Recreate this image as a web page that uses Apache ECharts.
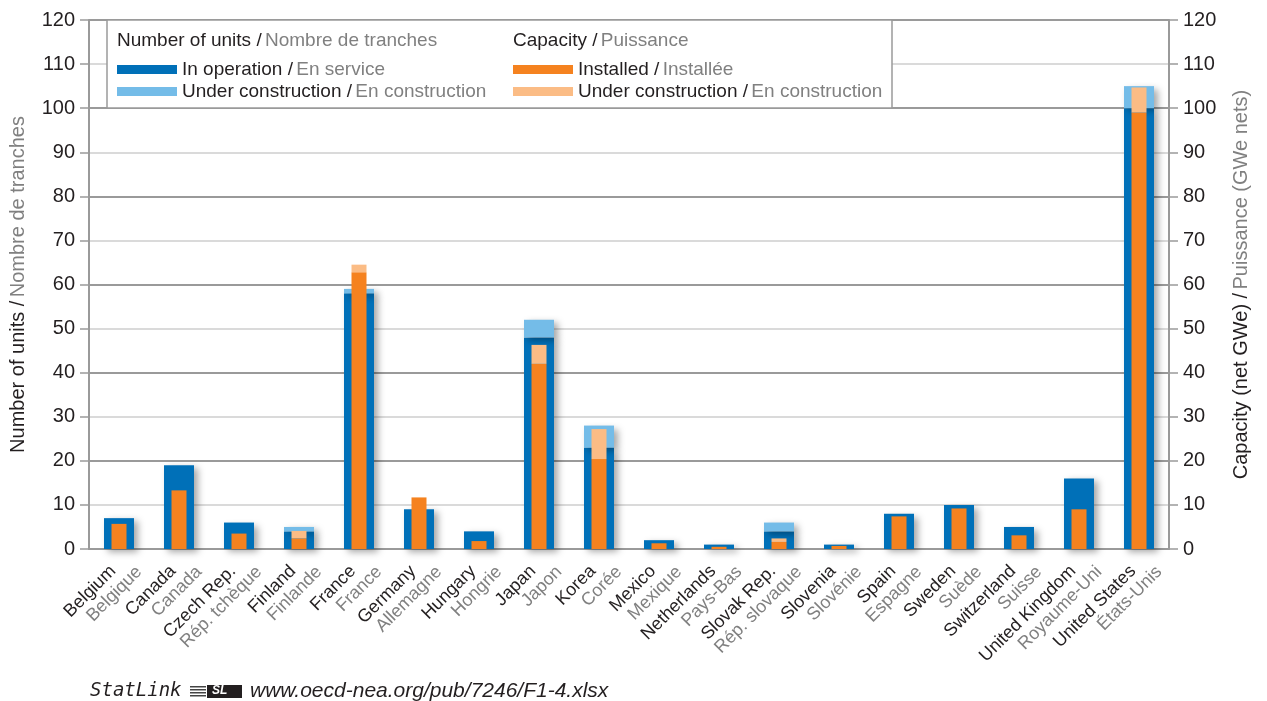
<!DOCTYPE html>
<html>
<head>
<meta charset="utf-8">
<script src="https://cdn.jsdelivr.net/npm/echarts@6/dist/echarts.min.js"></script>
<style>html,body{margin:0;padding:0;background:#fff;}#chart{width:1267px;height:701px;}</style>
</head>
<body>
<div id="chart"></div>
<script>
// ---- data ----
const countriesEN = ['Belgium','Canada','Czech Rep.','Finland','France','Germany','Hungary','Japan','Korea','Mexico','Netherlands','Slovak Rep.','Slovenia','Spain','Sweden','Switzerland','United Kingdom','United States'];
const countriesFR = ['Belgique','Canada','Rép. tchèque','Finlande','France','Allemagne','Hongrie','Japon','Corée','Mexique','Pays-Bas','Rép. slovaque','Slovénie','Espagne','Suède','Suisse','Royaume-Uni','États-Unis'];
const unitsOperation    = [7, 19, 6, 4, 58, 9, 4, 48, 23, 2, 1, 4, 1, 8, 10, 5, 16, 100];
const unitsConstruction = [0, 0, 0, 1, 1, 0, 0, 4, 5, 0, 0, 2, 0, 0, 0, 0, 0, 5];
const capInstalled      = [5.7, 13.3, 3.5, 2.4, 62.8, 11.7, 1.8, 42.0, 20.4, 1.3, 0.5, 1.6, 0.7, 7.4, 9.2, 3.1, 9.0, 99.0];
const capConstruction   = [0, 0, 0, 1.7, 1.7, 0, 0, 4.3, 6.8, 0, 0, 0.8, 0, 0, 0, 0, 0, 5.7];
const yTicks = [0, 10, 20, 30, 40, 50, 60, 70, 80, 90, 100, 110, 120];

const legendText = {
  'units_op': ['In operation', 'En service'],
  'units_uc': ['Under construction', 'En construction'],
  'cap_inst': ['Installed', 'Installée'],
  'cap_uc':   ['Under construction', 'En construction']
};

const BLACK = '#231f20', GRAY = '#808080';
const FONT = 'Liberation Sans, Arial, sans-serif';
const categories = countriesEN.map((e, i) => e + '|' + countriesFR[i]);

const chart = echarts.init(document.getElementById('chart'), null, {renderer: 'canvas'});
const blueShadow = {shadowBlur: 7, shadowColor: 'rgba(0,0,0,0.35)', shadowOffsetX: 4, shadowOffsetY: 3};
const legendRich = {
  a: {color: BLACK, fontSize: 19, fontFamily: FONT, lineHeight: 20},
  b: {color: GRAY, fontSize: 19, fontFamily: FONT, lineHeight: 20}
};
const nameRich = {
  a: {color: BLACK, fontSize: 20, fontFamily: FONT},
  b: {color: GRAY, fontSize: 20, fontFamily: FONT}
};

const option = {
  backgroundColor: '#fff',
  animation: false,
  textStyle: {fontFamily: FONT},
  grid: {left: 89, right: 98, top: 20, bottom: 152, containLabel: false},
  xAxis: [{
    type: 'category',
    data: categories,
    axisLine: {lineStyle: {color: '#9a9a9a', width: 2}},
    axisTick: {show: false},
    axisLabel: {
      interval: 0, rotate: 45, margin: 0, align: 'right', verticalAlign: 'top',
      formatter: v => { const p = v.split('|'); return '{en|' + p[0] + '}\n{fr|' + p[1] + '}'; },
      rich: {
        en: {color: BLACK, fontSize: 18, fontFamily: FONT, lineHeight: 19, padding: [0, 18, 0, 0]},
        fr: {color: GRAY, fontSize: 18, fontFamily: FONT, lineHeight: 19}
      }
    }
  }, {
    type: 'category', data: categories, show: false, gridIndex: 0
  }],
  yAxis: [{
    type: 'value', min: 0, max: 120, interval: 10, position: 'left',
    axisLine: {show: true, lineStyle: {color: '#9a9a9a', width: 2}},
    axisTick: {show: true, length: 9, lineStyle: {color: '#9a9a9a', width: 1.5}},
    axisLabel: {color: BLACK, fontSize: 20, fontFamily: FONT, margin: 14,
      formatter: v => yTicks.includes(v) ? String(v) : ''},
    splitLine: {show: true, lineStyle: {color: ['#9a9a9a', '#dadada'], width: 2}},
    name: '{a|Number of units /} {b|Nombre de tranches}',
    nameLocation: 'middle', nameRotate: 90, nameGap: 61,
    nameTextStyle: {rich: nameRich}
  }, {
    type: 'value', min: 0, max: 120, interval: 10, position: 'right',
    axisLine: {show: true, lineStyle: {color: '#9a9a9a', width: 2}},
    axisTick: {show: true, length: 9, lineStyle: {color: '#9a9a9a', width: 1.5}},
    axisLabel: {color: BLACK, fontSize: 20, fontFamily: FONT, margin: 14,
      formatter: v => yTicks.includes(v) ? String(v) : ''},
    splitLine: {show: false},
    name: '{a|Capacity (net GWe) /} {b|Puissance (GWe nets)}',
    nameLocation: 'middle', nameRotate: 90, nameGap: 62,
    nameTextStyle: {rich: nameRich}
  }],
  legend: [{
    data: ['units_op', 'units_uc'],
    orient: 'vertical', left: 117, top: 60, itemWidth: 60, itemHeight: 9, itemGap: 3,
    icon: 'rect', selectedMode: false, z: 20, padding: 0,
    formatter: n => '{a|' + legendText[n][0] + ' /} {b|' + legendText[n][1] + '}',
    textStyle: {rich: legendRich}
  }, {
    data: ['cap_inst', 'cap_uc'],
    orient: 'vertical', left: 513, top: 60, itemWidth: 60, itemHeight: 9, itemGap: 3,
    icon: 'rect', selectedMode: false, z: 20, padding: 0,
    formatter: n => '{a|' + legendText[n][0] + ' /} {b|' + legendText[n][1] + '}',
    textStyle: {rich: legendRich}
  }],
  graphic: [
    {type: 'rect', z: 10, shape: {x: 107, y: 20, width: 785, height: 88},
     style: {fill: '#fff', stroke: '#9a9a9a', lineWidth: 1.5}},
    {type: 'text', z: 11, x: 117, y: 31,
     style: {text: '{a|Number of units /} {b|Nombre de tranches}',
       rich: {a: {fill: BLACK, fontSize: 19, fontFamily: FONT}, b: {fill: GRAY, fontSize: 19, fontFamily: FONT}}}},
    {type: 'text', z: 11, x: 513, y: 31,
     style: {text: '{a|Capacity /} {b|Puissance}',
       rich: {a: {fill: BLACK, fontSize: 19, fontFamily: FONT}, b: {fill: GRAY, fontSize: 19, fontFamily: FONT}}}},
    {type: 'text', z: 11, x: 90, y: 682,
     style: {text: 'StatLink', fill: BLACK, font: 'italic 19px "DejaVu Sans Mono", monospace'}},
    {type: 'group', x: 190, y: 684, z: 11, children: [
      {type: 'rect', shape: {x: 0, y: 2, width: 16, height: 1.5}, style: {fill: '#444'}},
      {type: 'rect', shape: {x: 0, y: 5, width: 16, height: 1.5}, style: {fill: '#444'}},
      {type: 'rect', shape: {x: 0, y: 8, width: 16, height: 1.5}, style: {fill: '#444'}},
      {type: 'rect', shape: {x: 0, y: 11, width: 16, height: 1.5}, style: {fill: '#444'}},
      {type: 'rect', shape: {x: 17, y: 1, width: 35, height: 13}, style: {fill: '#231f20'}},
      {type: 'text', x: 22, y: 1, style: {text: 'SL', fill: '#fff', font: 'bold italic 12px "Liberation Sans", Arial'}}
    ]},
    {type: 'text', z: 11, x: 250, y: 681,
     style: {text: 'www.oecd-nea.org/pub/7246/F1-4.xlsx', fill: BLACK, font: 'italic 21px "Liberation Sans", Arial, sans-serif'}}
  ],
  series: [
    {name: 'units_op', type: 'bar', xAxisIndex: 0, yAxisIndex: 0, stack: 'units', barWidth: 30,
     data: unitsOperation, itemStyle: Object.assign({color: '#0070b8'}, blueShadow), z: 2},
    {name: 'units_uc', type: 'bar', xAxisIndex: 0, yAxisIndex: 0, stack: 'units', barWidth: 30,
     data: unitsConstruction, itemStyle: Object.assign({color: '#74bce8'}, blueShadow), z: 2},
    {name: 'cap_inst', type: 'bar', xAxisIndex: 1, yAxisIndex: 1, stack: 'cap', barWidth: 15,
     data: capInstalled, itemStyle: {color: '#f5821f'}, z: 3},
    {name: 'cap_uc', type: 'bar', xAxisIndex: 1, yAxisIndex: 1, stack: 'cap', barWidth: 15,
     data: capConstruction, itemStyle: {color: '#fbbc85'}, z: 3}
  ]
};
chart.setOption(option);
</script>
</body>
</html>
